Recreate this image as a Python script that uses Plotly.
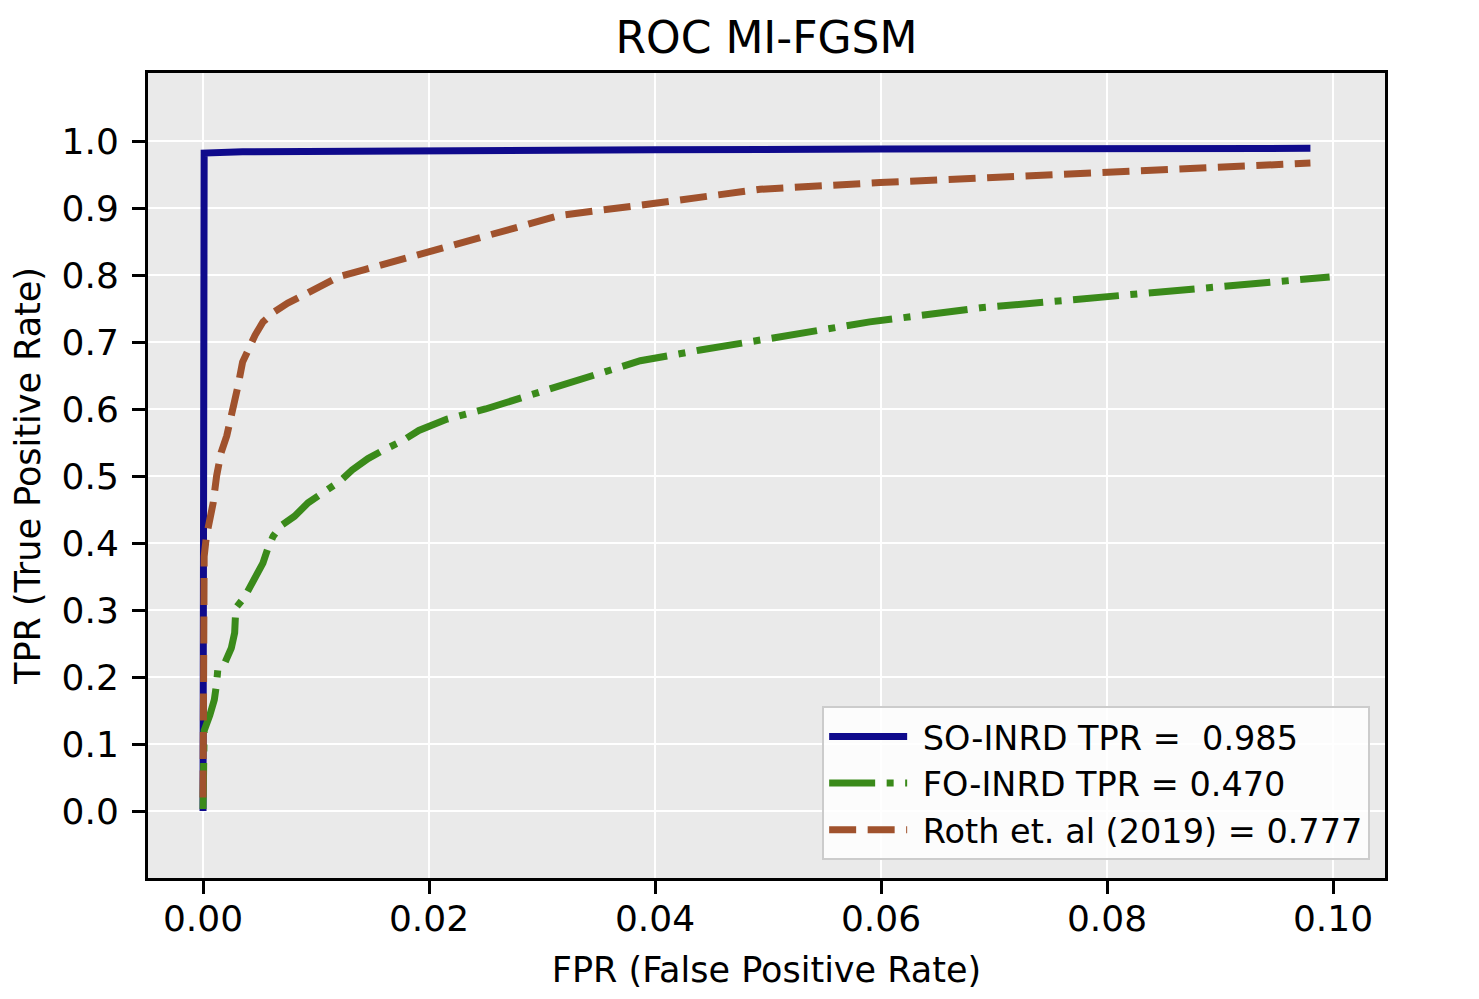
import plotly.graph_objects as go

# ROC curve points (FPR, TPR)
so_fpr = [0, 0, 0.0001, 0.0035, 0.012, 0.02, 0.04, 0.06, 0.08, 0.098]
so_tpr = [0, 0.05, 0.982, 0.984, 0.985, 0.986, 0.987, 0.988, 0.988, 0.989]

fo_fpr = [0, 0, 0.0001, 0.0006, 0.0010, 0.0012, 0.0013, 0.0019, 0.0025, 0.0028,
          0.0029, 0.0037, 0.0046, 0.0053, 0.0057, 0.0062, 0.0069, 0.0081, 0.0093,
          0.0110, 0.0121, 0.0132, 0.0146, 0.0160, 0.0176, 0.0191, 0.0216, 0.0250,
          0.0298, 0.0340, 0.0387, 0.0440, 0.0493, 0.0590, 0.0688, 0.0794, 0.0909, 0.0997]
fo_tpr = [0.003, 0.07, 0.12, 0.143, 0.166, 0.19, 0.21, 0.22, 0.243, 0.266,
          0.303, 0.32, 0.35, 0.37, 0.39, 0.41, 0.426, 0.44, 0.46,
          0.479, 0.492, 0.509, 0.526, 0.539, 0.552, 0.568, 0.585, 0.60,
          0.625, 0.645, 0.672, 0.688, 0.703, 0.73, 0.751, 0.767, 0.785, 0.797]

roth_fpr = [0, 0, 0.0001, 0.0003, 0.0006, 0.0009, 0.0012, 0.0016, 0.0021, 0.0027,
            0.0031, 0.0035, 0.0040, 0.0046, 0.0053, 0.0063, 0.0075, 0.0098, 0.0121,
            0.0143, 0.0172, 0.0216, 0.0260, 0.0316, 0.0400, 0.0493, 0.0599, 0.0700,
            0.0798, 0.0900, 0.0980]
roth_tpr = [0.02, 0.2, 0.38, 0.41, 0.43, 0.46, 0.50, 0.535, 0.56, 0.60,
            0.635, 0.67, 0.69, 0.71, 0.73, 0.745, 0.758, 0.778, 0.798,
            0.808, 0.822, 0.842, 0.862, 0.889, 0.907, 0.928, 0.938, 0.946,
            0.953, 0.960, 0.967]

names = ["SO-INRD TPR =  0.985", "FO-INRD TPR = 0.470", "Roth et. al (2019) = 0.777"]
x_ticks = [0.0, 0.02, 0.04, 0.06, 0.08, 0.10]
y_ticks = [0.0, 0.1, 0.2, 0.3, 0.4, 0.5, 0.6, 0.7, 0.8, 0.9, 1.0]

font = "DejaVu Sans"
pad = "\u00a0"  # small gap between legend line and label

fig = go.Figure()
fig.add_trace(go.Scatter(x=so_fpr, y=so_tpr, mode="lines", name=pad + names[0],
                         line=dict(color="#0f0a8c", width=7)))
fig.add_trace(go.Scatter(x=fo_fpr, y=fo_tpr, mode="lines", name=pad + names[1],
                         line=dict(color="#3a8a1a", width=7,
                                   dash="46px,11.5px,7px,11.5px")))
fig.add_trace(go.Scatter(x=roth_fpr, y=roth_tpr, mode="lines", name=pad + names[2],
                         line=dict(color="#a0522d", width=7, dash="27px,11.5px")))

axis_style = dict(
    showline=True, linecolor="black", linewidth=3, mirror=True,
    showgrid=True, gridcolor="white", gridwidth=2,
    ticks="outside", ticklen=13, tickwidth=3, tickcolor="black",
    tickfont=dict(family=font, size=36, color="black"),
    zeroline=False,
)

fig.update_xaxes(axis_style, range=[-0.00487, 0.1046], tickvals=x_ticks,
                 tickformat=".2f", ticklabelstandoff=-6,
                 title=dict(text="FPR (False Positive Rate)", standoff=20,
                            font=dict(family=font, size=35, color="black")))
fig.update_yaxes(axis_style, range=[-0.1, 1.1015], tickvals=y_ticks,
                 tickformat=".1f", ticklabelstandoff=6,
                 title=dict(text="TPR (True Positive Rate)", standoff=12,
                            font=dict(family=font, size=35, color="black")))

fig.update_layout(
    width=1479, height=999,
    margin=dict(l=140, r=102, t=65, b=129),
    paper_bgcolor="white", plot_bgcolor="#eaeaea",
    title=dict(text="ROC MI-FGSM", x=0.5, xref="paper", y=1 - 30 / 999,
               yref="container", yanchor="middle",
               font=dict(family=font, size=44, color="black")),
    legend=dict(x=0.988, y=0.022, xanchor="right", yanchor="bottom",
                bgcolor="rgba(255,255,255,0.85)", bordercolor="#cccccc",
                borderwidth=2, font=dict(family=font, size=33.5, color="black"),
                itemwidth=78, tracegroupgap=0),
    showlegend=True,
)

fig.write_html("out.html")
